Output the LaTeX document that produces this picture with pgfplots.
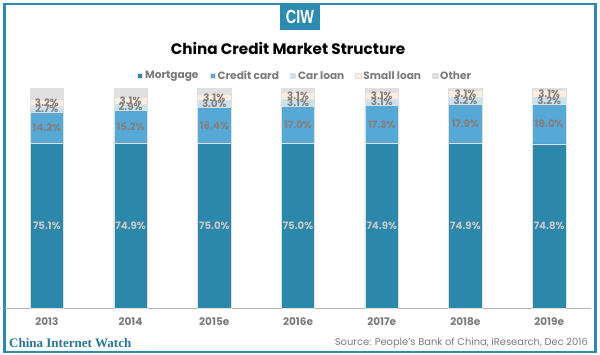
\documentclass[border=0pt]{standalone}
\usepackage{pgfplots}
\pgfplotsset{compat=1.18}
\usepackage{fontspec}
\setmainfont{Poppins}
\newfontfamily\serifb{Liberation Serif}
\newfontfamily\narrowb{Liberation Sans}
\definecolor{cMort}{HTML}{2B88AB}
\definecolor{cCred}{HTML}{56A9D6}
\definecolor{cCar}{HTML}{C8E2EE}
\definecolor{cSmall}{HTML}{FDEEE0}
\definecolor{cOther}{HTML}{E0E0E0}
\definecolor{cLab}{HTML}{7A7A7A}
\definecolor{cLabB}{HTML}{857F7F}
\definecolor{cFrame}{HTML}{2E8BB0}
\begin{document}
\begin{tikzpicture}[x=1pt,y=1pt]
\path[use as bounding box] (0,0) rectangle (600,355);
\draw[cFrame,line width=2.5pt] (4.5,3) rectangle (595.5,351);
\fill[cFrame] (280,325) rectangle (320,351);
\node[text=white,font=\narrowb\bfseries\fontsize{19}{19}\selectfont] at (300,338) {\scalebox{0.76}[1]{CIW}};
\node[font=\bfseries\fontsize{15.2}{17}\selectfont,text=black] at (288,307) {China Credit Market Structure};
\begin{axis}[
  at={(5pt,47pt)},anchor=south west,
  width=586pt,height=219.5pt,scale only axis,
  ybar stacked,bar width=33.5pt,
  xmin=-0.5,xmax=6.5,ymin=0,ymax=100,
  axis y line=none,axis x line*=bottom,
  axis line style={draw=black!30,line width=0.8pt},
  xtick=data,xticklabels={2013,2014,2015e,2016e,2017e,2018e,2019e},
  xtick style={draw=none},
  xticklabel style={font=\bfseries\fontsize{10.5}{12}\selectfont,text=cLab,yshift=-6pt},
  clip=false,
  legend style={at={(0.512,1.057)},anchor=center,draw=none,fill=none,legend columns=-1,
    font=\bfseries\fontsize{10.6}{12}\selectfont,text=cLab,
    /tikz/every even column/.style={column sep=9pt}},
  legend image code/.code={\fill[#1] (0,-2.5pt) rectangle (5.5pt,3pt);},
]
\addplot[fill=cMort,draw=black!12,line width=0.6pt] coordinates {(0,75.1)(1,74.9)(2,75.0)(3,75.0)(4,74.9)(5,74.9)(6,74.8)};
\addplot[fill=cCred,draw=black!12,line width=0.6pt] coordinates {(0,14.2)(1,15.2)(2,16.4)(3,17.0)(4,17.3)(5,17.9)(6,18.0)};
\addplot[fill=cCar,draw=black!12,line width=0.6pt] coordinates {(0,2.7)(1,2.9)(2,3.0)(3,3.1)(4,3.1)(5,3.2)(6,3.2)};
\addplot[fill=cSmall,draw=black!12,line width=0.6pt] coordinates {(0,3.2)(1,3.1)(2,3.1)(3,3.1)(4,3.1)(5,3.1)(6,3.1)};
\addplot[fill=cOther,draw=black!12,line width=0.6pt] coordinates {(0,4.8)(1,3.9)(2,2.5)(3,1.8)(4,1.6)(5,0.9)(6,0.9)};
\legend{Mortgage,Credit card,Car loan,Small loan,Other}
\end{axis}
\begin{axis}[
  at={(5pt,47pt)},anchor=south west,
  width=586pt,height=219.5pt,scale only axis,
  xmin=-0.5,xmax=6.5,ymin=0,ymax=100,
  axis lines=none,clip=false,
  nodes near coords,point meta=explicit symbolic,
  every node near coord/.append style={anchor=center,font=\bfseries\fontsize{10.2}{11}\selectfont,text=cLabB,inner sep=0pt},
]
\addplot[draw=none,mark=none,every node near coord/.append style={text=black!22}] coordinates {(0,37.55)[75.1\%] (1,37.45)[74.9\%] (2,37.5)[75.0\%] (3,37.5)[75.0\%] (4,37.45)[74.9\%] (5,37.45)[74.9\%] (6,37.4)[74.8\%]};
\addplot[draw=none,mark=none] coordinates {(0,82.2)[14.2\%] (1,82.5)[15.2\%] (2,83.2)[16.4\%] (3,83.5)[17.0\%] (4,83.55)[17.3\%] (5,83.85)[17.9\%] (6,83.8)[18.0\%]};
\addplot[draw=none,mark=none] coordinates {(0,90.65)[2.7\%] (1,91.55)[2.9\%] (2,92.9)[3.0\%] (3,93.55)[3.1\%] (4,93.75)[3.1\%] (5,94.4)[3.2\%] (6,94.4)[3.2\%]};
\addplot[draw=none,mark=none] coordinates {(0,93.6)[3.2\%] (1,94.55)[3.1\%] (2,95.95)[3.1\%] (3,96.65)[3.1\%] (4,96.85)[3.1\%] (5,97.55)[3.1\%] (6,97.55)[3.1\%]};
\end{axis}
\node[anchor=west,inner sep=0pt,text=cFrame!85!black,font=\serifb\bfseries\fontsize{13}{14}\selectfont] at (9,12) {China Internet Watch};
\node[anchor=east,inner sep=0pt,text=cLab,font=\fontsize{9.9}{11}\selectfont] at (588,11.5) {Source: People's Bank of China, iResearch, Dec 2016};
\end{tikzpicture}
\end{document}
